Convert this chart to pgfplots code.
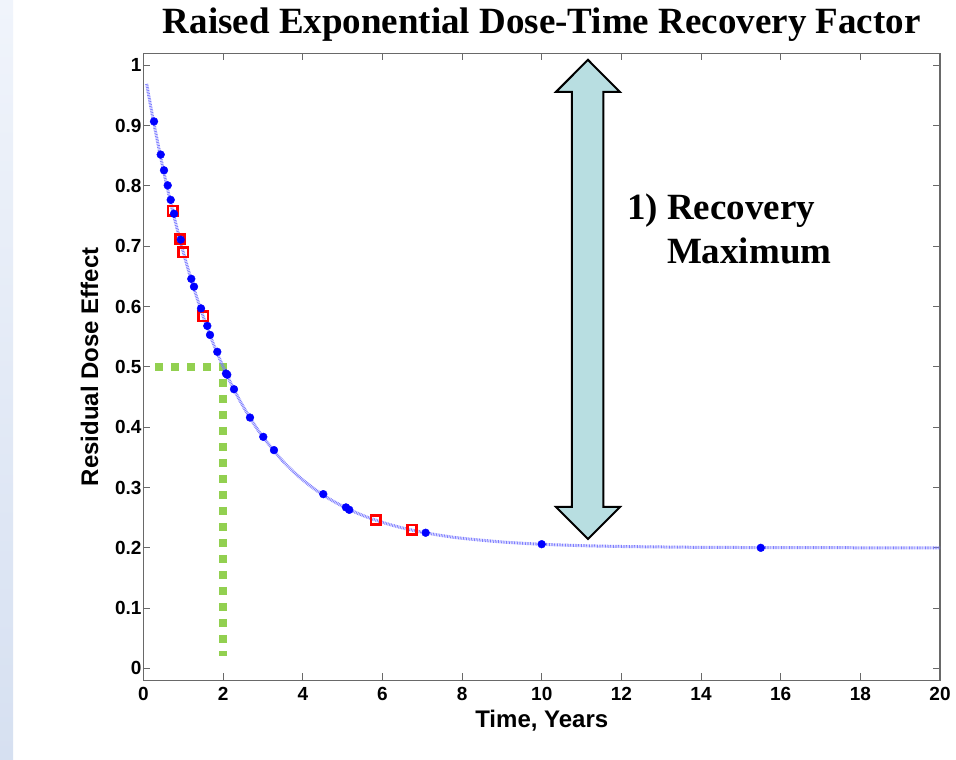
\documentclass[border=0pt]{standalone}
\usepackage{fontspec}
\setmainfont{Liberation Sans}
\newfontfamily\timesfont{Liberation Serif}
\usepackage{pgfplots}
\pgfplotsset{compat=1.18}

\definecolor{curveblue}{RGB}{125,125,255}
\definecolor{dotblue}{RGB}{0,0,255}
\definecolor{guidegreen}{RGB}{146,208,80}
\definecolor{arrowfill}{RGB}{184,222,225}
\definecolor{axisgray}{RGB}{105,105,105}
\definecolor{stripetop}{RGB}{240,244,251}
\definecolor{stripebot}{RGB}{214,224,241}

\begin{document}
\begin{tikzpicture}[x=1pt,y=1pt]
\fill[white] (0,0) rectangle (956,760);
\shade[top color=stripetop, bottom color=stripebot] (0,0) rectangle (13,760);
\useasboundingbox (0,0) rectangle (956,760);
\begin{axis}[
  at={(143.5pt,79.5pt)}, anchor=south west,
  scale only axis, width=796.5pt, height=627.2pt,
  xmin=0, xmax=20, ymin=-0.02, ymax=1.02,
  xtick={0,2,4,6,8,10,12,14,16,18,20},
  ytick={0,0.1,0.2,0.3,0.4,0.5,0.6,0.7,0.8,0.9,1},
  yticklabel style={/pgf/number format/fixed, /pgf/number format/precision=1},
  tick align=inside, major tick length=7pt,
  tick style={axisgray, line width=1pt},
  axis line style={axisgray, line width=1.3pt},
  ticklabel style={font=\bfseries\fontsize{19}{19}\selectfont},
  /pgf/number format/assume math mode=true,
  xticklabel style={yshift=-3pt},
  yticklabel style={xshift=1.5pt},
  xlabel={Time, Years},
  ylabel={Residual Dose Effect},
  label style={font=\bfseries\fontsize{24}{24}\selectfont},
  xlabel style={at={(axis description cs:0.5,-0.0757)}, anchor=base},
  ylabel style={at={(axis description cs:-0.0571,0.5)}, anchor=base},
  title={Raised Exponential Dose-Time Recovery Factor},
  title style={font=\timesfont\bfseries\fontsize{37}{37}\selectfont,
    at={(axis description cs:0.5,1)}, anchor=base, yshift=13.5pt},
]
% half-value guide at 2 years
\addplot[guidegreen, line width=7.5pt, dash pattern=on 8pt off 8pt, line join=miter]
  coordinates {(0.289,0.5) (2,0.5) (2,0.02)};

% recovery curve
\addplot[curveblue, line width=3pt, dash pattern=on 0.8pt off 0.8pt, smooth]
  coordinates {
  (0.08,0.9692) (0.25,0.9077) (0.5,0.8260) (0.75,0.7538) (1.0,0.6899)
  (1.25,0.6334) (1.5,0.5834) (1.75,0.5391) (2.0,0.5000) (2.25,0.4654)
  (2.5,0.4347) (2.75,0.4077) (3.0,0.3837) (3.5,0.3437) (4.0,0.3125)
  (4.5,0.2880) (5.0,0.2689) (5.5,0.2539) (6.0,0.2422) (6.5,0.2330)
  (7.0,0.2258) (7.5,0.2202) (8.0,0.2158) (9.0,0.2097) (10,0.2059)
  (11,0.2036) (12,0.2022) (13,0.2014) (14,0.2008) (16,0.2003)
  (18,0.2001) (20,0.2000)
  };

% highlighted observations
\addplot[only marks, mark=square, mark size=4.6pt, red,
  mark options={line width=2.6pt, fill=none, draw=red}]
  coordinates {(0.733,0.759) (0.916,0.712) (0.999,0.690) (1.501,0.584)
               (5.830,0.246) (6.741,0.230)};

% observations
\addplot[only marks, mark=*, mark size=3.9pt, dotblue,
  mark options={draw=dotblue, fill=dotblue}]
  coordinates {
  (0.264,0.907) (0.432,0.852) (0.515,0.826) (0.608,0.801) (0.683,0.777)
  (0.766,0.754) (0.934,0.711) (1.200,0.646) (1.268,0.633) (1.444,0.597)
  (1.602,0.568) (1.670,0.553) (1.853,0.525) (2.071,0.489) (2.104,0.487)
  (2.272,0.463) (2.674,0.416) (3.008,0.384) (3.276,0.362) (4.514,0.289)
  (5.084,0.267) (5.167,0.263) (7.085,0.225) (9.998,0.206) (15.50,0.200)
  };

% double-headed block arrow spanning the recoverable range
\draw[black, line width=2pt, fill=arrowfill, line join=miter]
  (axis cs:11.160,1.0091) -- (axis cs:11.963,0.9560) -- (axis cs:11.549,0.9560)
  -- (axis cs:11.549,0.2677) -- (axis cs:11.963,0.2677) -- (axis cs:11.160,0.2146)
  -- (axis cs:10.357,0.2677) -- (axis cs:10.758,0.2677) -- (axis cs:10.758,0.9560)
  -- (axis cs:10.357,0.9560) -- cycle;

\node[anchor=base west, inner sep=0pt, font=\timesfont\bfseries\fontsize{37}{37}\selectfont]
  at (axis cs:12.14,0.744) {1) Recovery};
\node[anchor=base west, inner sep=0pt, font=\timesfont\bfseries\fontsize{37}{37}\selectfont]
  at (axis cs:13.14,0.672) {Maximum};
\end{axis}
\end{tikzpicture}
\end{document}
